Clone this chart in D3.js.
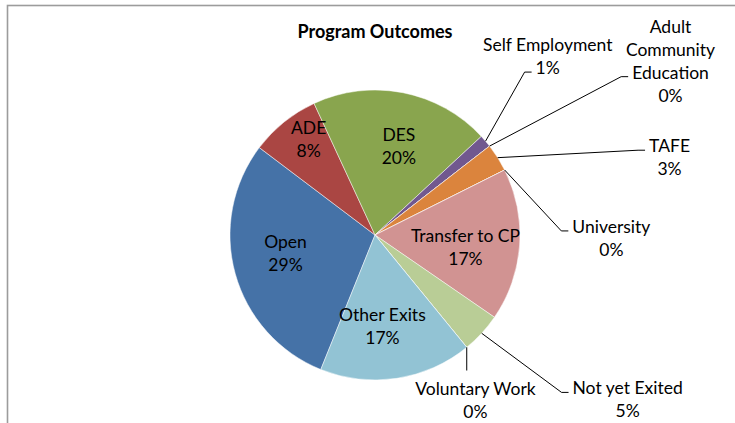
<!DOCTYPE html>
<html>
<meta charset="utf-8">
<title>Program Outcomes</title>
<style>
html, body {
    margin: 0;
    padding: 0;
    background: #fff;
}
svg text {
    font-family: Lato, "Open Sans", sans-serif;
    fill: #000;
}
.title {
    font-weight: bold;
    font-size: 18px;
}
.lbl {
    font-size: 17.5px;
}
.leader {
    fill: none;
    stroke: #000;
    stroke-width: 1;
}
</style>
<body>
<div id="chart"></div>
<script src="https://cdn.jsdelivr.net/npm/d3@7"></script>
<script>
// data (percent of all outcomes)
var categories = ["Open", "ADE", "DES", "Self Employment", "Adult Community Education", "TAFE",
    "University", "Transfer to CP", "Not yet Exited", "Voluntary Work", "Other Exits"];
var shares = [29.2, 7.8, 20.0, 1.4, 0, 3.1, 0, 17.0, 4.5, 0, 17.0];
var colors = ["#4572A7", "#AA4643", "#89A54E", "#71588F", "#4198AF", "#DB843D",
    "#93A9CF", "#D19392", "#B9CD96", "#A99BBD", "#92C3D4"];
var wrapped = {"Adult Community Education": ["Adult", "Community", "Education"]};

// label placement for the small slices: angle (deg), distance (in radii), row the leader meets
var outside = {
    "Self Employment": [43.2, 1.74, 1],
    "Adult Community Education": [55.6, 2.47, 2],
    "TAFE": [74.3, 2.11, 0],
    "University": [89.5, 1.63, 0],
    "Not yet Exited": [122.25, 2.06, 0],
    "Voluntary Work": [147.8, 1.30, -1]
};

var width = 735, height = 423;
var cx = 375, cy = 235, radius = 145;
var firstAngle = 201.95; // Excel "angle of first slice"
var lineGap = 23;

var svg = d3.select("#chart").append("svg")
    .attr("width", width)
    .attr("height", height);

// chart area border, only top and left edges fall inside the picture
svg.append("rect")
    .attr("x", 7.5).attr("y", 5.5)
    .attr("width", 900).attr("height", 600)
    .attr("fill", "none")
    .attr("stroke", "#9c9c9c")
    .attr("stroke-width", 1.6);

svg.append("text")
    .attr("class", "title")
    .attr("x", cx)
    .attr("y", 38)
    .attr("text-anchor", "middle")
    .text("Program Outcomes");

var data = categories.map(function(c, i) {
    return {name: c, value: shares[i], color: colors[i]};
});

var rad = Math.PI / 180;
var pie = d3.pie()
    .sort(null)
    .value(function(d) { return d.value; })
    .startAngle(firstAngle * rad)
    .endAngle(firstAngle * rad + 2 * Math.PI);

var arc = d3.arc().innerRadius(0).outerRadius(radius);
var arcs = pie(data);

var g = svg.append("g").attr("transform", "translate(" + cx + "," + cy + ")");

g.selectAll("path.slice")
    .data(arcs)
    .enter().append("path")
    .attr("class", "slice")
    .attr("d", arc)
    .attr("fill", function(d) { return d.data.color; })
    .attr("stroke", "#fff")
    .attr("stroke-width", 0.6)
    .attr("stroke-opacity", 0.8);

function pct(d) {
    return Math.round(d.data.value) + "%";
}

function polar(angleDeg, r) {
    return [r * Math.sin(angleDeg * rad), -r * Math.cos(angleDeg * rad)];
}

// labels inside the bigger slices (Excel sits them a little clockwise of the middle)
arcs.filter(function(d) { return !outside[d.data.name]; }).forEach(function(d) {
    var span = (d.endAngle - d.startAngle) / rad;
    var mid = (d.startAngle + d.endAngle) / 2 / rad + 4;
    var k = span < 40 ? 0.8 : 0.63;
    var p = polar(mid, radius * k);
    var t = g.append("text")
        .attr("class", "lbl")
        .attr("text-anchor", "middle");
    t.append("tspan").attr("x", p[0]).attr("y", p[1] - 5.5).text(d.data.name);
    t.append("tspan").attr("x", p[0]).attr("y", p[1] - 5.5 + lineGap).text(pct(d));
});

// labels outside with leader lines
arcs.filter(function(d) { return outside[d.data.name]; }).forEach(function(d) {
    var spec = outside[d.data.name];
    var mid = (d.startAngle + d.endAngle) / 2;
    var edge = [radius * Math.sin(mid), -radius * Math.cos(mid)];
    var at = polar(spec[0], spec[1] * radius);
    var rows = (wrapped[d.data.name] || [d.data.name]).concat([pct(d)]);

    var t = g.append("text")
        .attr("class", "lbl")
        .attr("text-anchor", "middle");
    var spans = rows.map(function(s, i) {
        return t.append("tspan").attr("x", at[0]).attr("y", at[1] + i * lineGap).text(s);
    });

    var pts;
    if (spec[2] < 0) {
        pts = [edge, [edge[0], at[1] - 24]];
    } else {
        var row = spans[spec[2]].node();
        var left = at[0] - row.getComputedTextLength() / 2 - 4;
        var y = at[1] + spec[2] * lineGap - 2;
        pts = [edge, [left - 7, y], [left, y]];
    }
    g.insert("path", "text")
        .attr("class", "leader")
        .attr("d", d3.line()(pts));
});
</script>
</body>
</html>
